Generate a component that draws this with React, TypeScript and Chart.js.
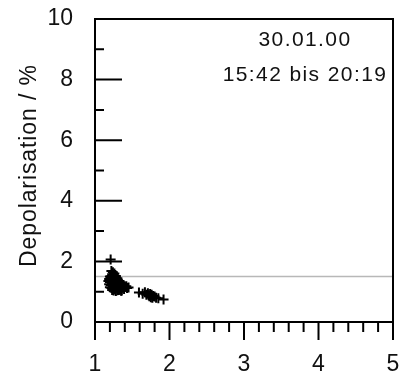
import React, { useEffect, useRef } from 'react';
import { Chart, registerables } from 'chart.js';

Chart.register(...registerables);

// ---- data ----
const xRange = [1, 5];
const yRange = [0, 10];
const xTickValues = [1, 2, 3, 4, 5];
const yTickValues = [0, 2, 4, 6, 8, 10];
const yTitle = 'Depolarisation / %';
const annotationLines = ['30.01.00', '15:42 bis 20:19'];
const referenceLevel = 1.5;

const clusterAX = [
  1.22, 1.24, 1.26, 1.25, 1.23, 1.28, 1.20, 1.22, 1.24, 1.26, 1.28, 1.30, 1.19, 1.21, 1.23, 1.25,
  1.27, 1.29, 1.31, 1.33, 1.18, 1.20, 1.22, 1.24, 1.26, 1.28, 1.30, 1.32, 1.34, 1.36, 1.19, 1.21,
  1.23, 1.25, 1.27, 1.29, 1.31, 1.33, 1.35, 1.38, 1.20, 1.22, 1.24, 1.26, 1.28, 1.30, 1.32, 1.34,
  1.37, 1.40, 1.42, 1.23, 1.25, 1.27, 1.30, 1.33, 1.36, 1.39, 1.43, 1.45, 1.28, 1.32, 1.35,
];
const clusterAY = [
  1.68, 1.64, 1.60, 1.55, 1.58, 1.52, 1.50, 1.52, 1.48, 1.50, 1.46, 1.44, 1.42, 1.45, 1.40, 1.43,
  1.38, 1.40, 1.36, 1.34, 1.35, 1.32, 1.36, 1.30, 1.33, 1.28, 1.31, 1.27, 1.30, 1.26, 1.25, 1.22,
  1.26, 1.20, 1.24, 1.18, 1.22, 1.17, 1.20, 1.22, 1.15, 1.12, 1.16, 1.10, 1.14, 1.12, 1.15, 1.10,
  1.13, 1.16, 1.18, 1.06, 1.04, 1.08, 1.05, 1.07, 1.04, 1.09, 1.12, 1.14, 1.02, 1.06, 1.03,
];
const clusterBX = [1.59, 1.64, 1.67, 1.69, 1.71, 1.72, 1.74, 1.73, 1.76, 1.75, 1.78, 1.80, 1.77, 1.82, 1.85, 1.92];
const clusterBY = [0.97, 0.93, 0.98, 0.90, 0.95, 0.88, 0.92, 0.85, 0.90, 0.82, 0.86, 0.84, 0.80, 0.80, 0.78, 0.74];
const outlierX = [1.21];
const outlierY = [2.06];

const FONT = '"Liberation Sans", Arial, Helvetica, sans-serif';

function toPoints(xs: number[], ys: number[]) {
  return xs.map((x, i) => ({ x, y: ys[i] }));
}

const framePlugin = {
  id: 'frameAndTicks',
  afterDraw(chart: any) {
    const { ctx, chartArea } = chart;
    const xs = chart.scales.x;
    const ys = chart.scales.y;
    const { left, right, top, bottom } = chartArea;
    ctx.save();
    ctx.strokeStyle = '#000';
    ctx.lineWidth = 2;
    ctx.lineCap = 'butt';
    ctx.strokeRect(left, top, right - left, bottom - top);
    ctx.beginPath();
    for (let v = yRange[0]; v <= yRange[1]; v += 1) {
      const y = ys.getPixelForValue(v);
      const len = v % 2 === 0 ? 27 : 9;
      ctx.moveTo(left - 1, y);
      ctx.lineTo(left + len, y);
    }
    for (let k = 0; k <= 20; k++) {
      const v = xRange[0] + k * 0.2;
      const x = xs.getPixelForValue(v);
      const len = k % 5 === 0 ? 18 : 10;
      ctx.moveTo(x, bottom);
      ctx.lineTo(x, bottom + len);
    }
    ctx.stroke();

    ctx.fillStyle = '#111';
    ctx.font = `23px ${FONT}`;
    (ctx as any).letterSpacing = '0.9px';
    ctx.textAlign = 'center';
    ctx.textBaseline = 'middle';
    ctx.save();
    ctx.translate(30, (top + bottom) / 2 - 5);
    ctx.rotate(-Math.PI / 2);
    ctx.fillText(yTitle, 0, 0);
    ctx.restore();

    ctx.font = `21px ${FONT}`;
    (ctx as any).letterSpacing = '1.4px';
    ctx.fillText(annotationLines[0], right - 88, top + 21);
    ctx.fillText(annotationLines[1], right - 88, top + 56);
    ctx.restore();
  },
};

export default function App() {
  const ref = useRef<HTMLCanvasElement>(null);
  useEffect(() => {
    document.body.style.margin = '0';
    const canvas = ref.current!;
    const chart = new Chart(canvas, {
      type: 'scatter',
      data: {
        datasets: [
          {
            data: [
              ...toPoints(clusterAX, clusterAY),
              ...toPoints(clusterBX, clusterBY),
              ...toPoints(outlierX, outlierY),
            ],
            pointStyle: 'cross',
            pointRadius: 5,
            pointBorderWidth: 2,
            borderColor: '#000',
            backgroundColor: '#000',
          },
          {
            type: 'line',
            data: [
              { x: xRange[0], y: referenceLevel },
              { x: xRange[1], y: referenceLevel },
            ],
            borderColor: '#b8b8b8',
            borderWidth: 1.5,
            pointRadius: 0,
            showLine: true,
          } as any,
        ],
      },
      options: {
        animation: false,
        responsive: false,
        maintainAspectRatio: false,
        layout: { padding: { top: 19, right: 6, left: 0, bottom: 0 } },
        plugins: { legend: { display: false }, tooltip: { enabled: false } },
        scales: {
          x: {
            type: 'linear',
            min: xRange[0],
            max: xRange[1],
            afterFit: (s: any) => {
              s.height = 52;
              s.paddingLeft = 0;
              s.paddingRight = 0;
              s.paddingTop = 0;
              s.paddingBottom = 0;
            },
            afterBuildTicks: (s: any) => { s.ticks = xTickValues.map((v) => ({ value: v })); },
            grid: { display: false, drawTicks: false },
            border: { display: false },
            ticks: { color: '#111', font: { size: 23, family: FONT }, padding: 29, maxRotation: 0, autoSkip: false },
          },
          y: {
            type: 'linear',
            min: yRange[0],
            max: yRange[1],
            afterFit: (s: any) => {
              s.width = 95;
              s.paddingLeft = 0;
              s.paddingRight = 0;
              s.paddingTop = 0;
              s.paddingBottom = 0;
            },
            afterBuildTicks: (s: any) => { s.ticks = yTickValues.map((v) => ({ value: v })); },
            grid: { display: false, drawTicks: false },
            border: { display: false },
            ticks: { color: '#111', font: { size: 23, family: FONT }, padding: 22, autoSkip: false },
          },
        },
      },
      plugins: [framePlugin],
    });
    return () => chart.destroy();
  }, []);
  return (
    <div style={{ position: 'absolute', left: 0, top: 0, width: 400, height: 374 }}>
      <canvas ref={ref} width={400} height={374} style={{ display: 'block' }} />
    </div>
  );
}
